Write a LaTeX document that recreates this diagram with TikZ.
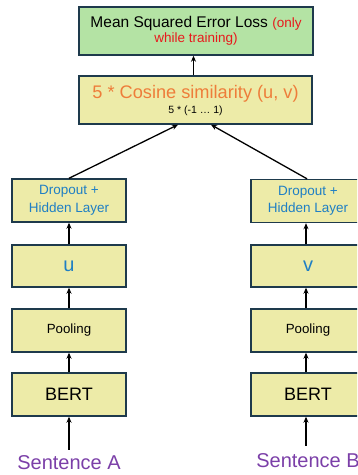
\documentclass[tikz,border=0pt]{standalone}
\usepackage{fontspec}
\setmainfont{Liberation Sans}
\usetikzlibrary{arrows.meta}

\definecolor{boxline}{HTML}{1E3A4C}
\definecolor{lossfill}{HTML}{B4E3A4}
\definecolor{layerfill}{HTML}{EDEBA8}
\definecolor{cosorange}{HTML}{EE7D3A}
\definecolor{layerblue}{HTML}{1F7FC4}
\definecolor{sentpurple}{HTML}{7B3FA8}
\definecolor{lossred}{HTML}{E8191C}

\tikzset{
  block/.style={draw=boxline, line width=1.4pt, fill=layerfill, inner sep=0pt,
                align=center, minimum width=114pt},
  lossbox/.style={block, fill=lossfill, minimum width=234pt, minimum height=48pt},
  cosbox/.style={block, minimum width=233pt, minimum height=48pt},
  arr/.style={line width=1.3pt, -{Stealth[length=6pt,width=5pt]}},
  sentence/.style={text=sentpurple, font=\fontsize{20}{24}\selectfont, inner sep=0pt}
}

\begin{document}
\begin{tikzpicture}[x=1pt, y=-1pt]
  \useasboundingbox (0,0) rectangle (357,475);
  \clip (0,0) rectangle (357,475);

  % loss and similarity head
  \node[lossbox] (loss) at (196,31)
    {\fontsize{15.5}{19}\selectfont Mean Squared Error Loss {\color{lossred}\fontsize{13.5}{16}\selectfont(only}\\[1pt]
     {\color{lossred}\fontsize{13.5}{16}\selectfont while training)}};
  \node[cosbox] (cos) at (195.5,100)
    {{\color{cosorange}\fontsize{18.2}{20}\selectfont 5 * Cosine similarity (u, v)}\\[3pt]
     {\fontsize{10.5}{12}\selectfont 5 * (-1 \dots\ 1)}};

  % left branch
  \node[block, minimum height=43pt, text=layerblue, font=\fontsize{13.5}{17.5}\selectfont]
    (dropA) at (69,200.5) {Dropout +\\Hidden Layer};
  \node[block, minimum height=42pt, text=layerblue, font=\fontsize{20}{24}\selectfont]
    (u) at (69,266) {u};
  \node[block, minimum height=43pt, font=\fontsize{13.3}{16}\selectfont]
    (poolA) at (69,330.5) {Pooling};
  \node[block, minimum height=43pt, font=\fontsize{18}{22}\selectfont]
    (bertA) at (69,394.5) {BERT};
  \node[sentence] (sentA) at (69,463) {Sentence A};

  % right branch
  \node[block, minimum height=43pt, text=layerblue, font=\fontsize{13.5}{17.5}\selectfont]
    (dropB) at (308,201) {Dropout +\\Hidden Layer};
  \node[block, minimum height=42pt, text=layerblue, font=\fontsize{20}{24}\selectfont]
    (v) at (308,266) {v};
  \node[block, minimum height=43pt, font=\fontsize{13.3}{16}\selectfont]
    (poolB) at (308,330.5) {Pooling};
  \node[block, minimum height=43pt, font=\fontsize{18}{22}\selectfont]
    (bertB) at (308,394.5) {BERT};
  \node[sentence] (sentB) at (308,461) {Sentence B};

  % connectors
  \draw[arr] ([xshift=-2pt]cos.north) -- ([xshift=-2.5pt]loss.south);
  \draw[arr] (dropA.north) -- ([xshift=-17.5pt]cos.south);
  \draw[arr] ([xshift=-1pt]dropB.north) -- ([xshift=15.5pt]cos.south);

  \draw[arr] (u.north) -- (dropA.south);
  \draw[arr] (poolA.north) -- (u.south);
  \draw[arr] (bertA.north) -- (poolA.south);
  \draw[arr] ([yshift=6pt]sentA.north) -- (bertA.south);

  \draw[arr] ([xshift=-2pt]v.north) -- ([xshift=-2pt]dropB.south);
  \draw[arr] ([xshift=-2pt]poolB.north) -- ([xshift=-2pt]v.south);
  \draw[arr] ([xshift=-2pt]bertB.north) -- ([xshift=-2pt]poolB.south);
  \draw[arr] ([xshift=-2pt,yshift=8pt]sentB.north) -- ([xshift=-2pt]bertB.south);
\end{tikzpicture}
\end{document}
